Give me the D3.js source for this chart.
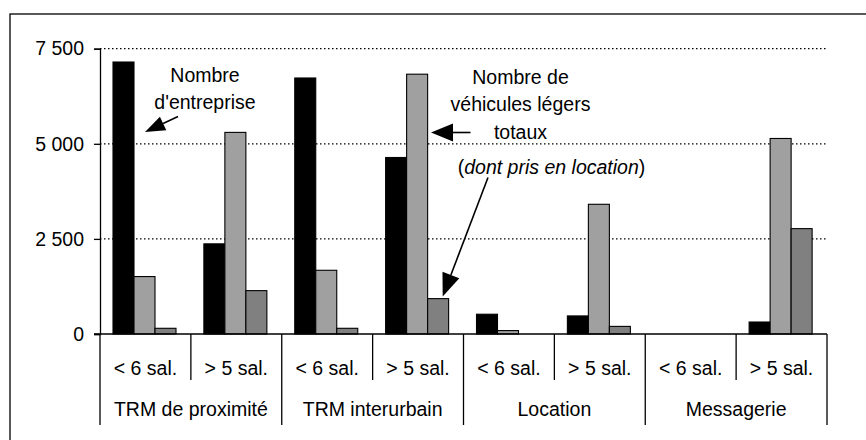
<!DOCTYPE html>
<html>
<head>
<meta charset="utf-8">
<script src="https://cdn.jsdelivr.net/npm/d3@7"></script>
<style>
  html, body { margin: 0; padding: 0; background: #fff; }
  svg { display: block; font-family: "Liberation Sans", Arial, sans-serif; }
</style>
</head>
<body>
<div id="chart"></div>
<script>
// ---- data ----
const groups = ["TRM de proximité", "TRM interurbain", "Location", "Messagerie"];
const sizes = ["< 6 sal.", "> 5 sal."];
const series = ["entreprises", "vehicules", "enLocation"];
const entreprises = [7150, 2370, 6730, 4640, 520, 475, 0, 315];
const vehicules   = [1510, 5300, 1675, 6830, 90, 3410, 0, 5140];
const enLocation  = [150, 1140, 150, 930, 0, 200, 0, 2770];
const yTicks = [0, 2500, 5000, 7500];

const categories = [];
groups.forEach(g => sizes.forEach(s => categories.push(g + "|" + s)));
const valuesBySeries = { entreprises, vehicules, enLocation };
const colors = { entreprises: "#000000", vehicules: "#a0a0a0", enLocation: "#808080" };

// ---- setup ----
const W = 866, H = 440;
const plotL = 100, plotR = 827, plotT = 48.7, plotB = 334;
const fontSize = "19.5px";

const svg = d3.select("#chart").append("svg")
  .attr("width", W)
  .attr("height", H);

// outer frame (runs off the picture on the right and bottom)
svg.append("rect")
  .attr("x", 10).attr("y", 14)
  .attr("width", 900).attr("height", 500)
  .attr("fill", "none")
  .attr("stroke", "#000")
  .attr("stroke-width", 1.3);

const x = d3.scaleBand().domain(categories).range([plotL, plotR]);
const x1 = d3.scaleBand().domain(series).range([13, 76]);
const y = d3.scaleLinear().domain([0, 7500]).range([plotB, plotT]);

// gridlines
svg.append("g")
  .selectAll("line")
  .data(yTicks.filter(d => d > 0))
  .join("line")
  .attr("x1", plotL).attr("x2", plotR)
  .attr("y1", d => y(d)).attr("y2", d => y(d))
  .attr("stroke", "#000")
  .attr("stroke-width", 1.2)
  .attr("stroke-dasharray", "1.5,2.5");

// bars
const gBars = svg.append("g");
series.forEach(s => {
  gBars.selectAll(null)
    .data(categories.map((c, i) => ({ c, v: valuesBySeries[s][i] })).filter(d => d.v > 0))
    .join("rect")
    .attr("x", d => x(d.c) + x1(s))
    .attr("y", d => y(d.v))
    .attr("width", x1.bandwidth())
    .attr("height", d => y(0) - y(d.v))
    .attr("fill", colors[s])
    .attr("stroke", "#000")
    .attr("stroke-width", 1.1);
});

// y axis
const yAxis = svg.append("g")
  .attr("transform", `translate(${plotL},0)`)
  .call(d3.axisLeft(y).tickValues(yTicks).tickSize(6).tickPadding(10)
    .tickFormat(d => d3.format(",")(d).replace(",", " ")));
yAxis.select(".domain").attr("stroke-width", 1.3);
yAxis.selectAll(".tick line").attr("stroke-width", 1.3);
yAxis.selectAll("text")
  .attr("fill", "#000")
  .style("font-size", fontSize)
  .style("font-family", "'Liberation Sans', Arial, sans-serif");

// x axis line
svg.append("line")
  .attr("x1", plotL - 6).attr("x2", plotR)
  .attr("y1", plotB).attr("y2", plotB)
  .attr("stroke", "#000").attr("stroke-width", 1.3);

// separators: short between sizes, long between groups
const bounds = categories.map(c => x(c)).concat([plotR]);
svg.append("g")
  .selectAll("line")
  .data(bounds)
  .join("line")
  .attr("x1", d => d).attr("x2", d => d)
  .attr("y1", plotB)
  .attr("y2", (d, i) => i % 2 === 0 ? 425 : 380)
  .attr("stroke", "#000").attr("stroke-width", 1.3);

// size labels
svg.append("g")
  .selectAll("text")
  .data(categories)
  .join("text")
  .attr("x", d => x(d) + x.bandwidth() / 2)
  .attr("y", 375)
  .attr("text-anchor", "middle")
  .style("font-size", fontSize)
  .text(d => d.split("|")[1]);

// group labels
svg.append("g")
  .selectAll("text")
  .data(groups)
  .join("text")
  .attr("x", (d, i) => x(categories[i * 2]) + x.bandwidth())
  .attr("y", 415.5)
  .attr("text-anchor", "middle")
  .style("font-size", fontSize)
  .text(d => d);

// ---- annotations ----
function arrow(x1p, y1p, x2p, y2p, headLen, headW) {
  const a = Math.atan2(y2p - y1p, x2p - x1p);
  const bx = x2p - headLen * Math.cos(a), by = y2p - headLen * Math.sin(a);
  const nx = -Math.sin(a) * headW, ny = Math.cos(a) * headW;
  svg.append("line")
    .attr("x1", x1p).attr("y1", y1p).attr("x2", bx).attr("y2", by)
    .attr("stroke", "#000").attr("stroke-width", 1.6);
  svg.append("path")
    .attr("d", `M${x2p},${y2p}L${bx + nx},${by + ny}L${bx - nx},${by - ny}Z`)
    .attr("fill", "#000");
}

function label(lines, cx, firstBaseline, step) {
  const t = svg.append("text")
    .attr("text-anchor", "middle")
    .style("font-size", fontSize);
  lines.forEach((l, i) => {
    t.append("tspan").attr("x", cx).attr("y", firstBaseline + i * step).text(l);
  });
}

label(["Nombre", "d'entreprise"], 205, 81.5, 27);
arrow(178, 116.5, 145, 132, 20, 7.5);

label(["Nombre de", "véhicules légers", "totaux"], 520.5, 83.5, 27.5);
arrow(470.5, 132.5, 431, 132.5, 22, 9);

const dont = svg.append("text")
  .attr("x", 551.5).attr("y", 173.5)
  .attr("text-anchor", "middle")
  .style("font-size", fontSize);
dont.append("tspan").text("(");
dont.append("tspan").style("font-style", "italic").text("dont pris en location");
dont.append("tspan").text(")");
arrow(488, 177.5, 442.7, 296.5, 23, 9);
</script>
</body>
</html>
